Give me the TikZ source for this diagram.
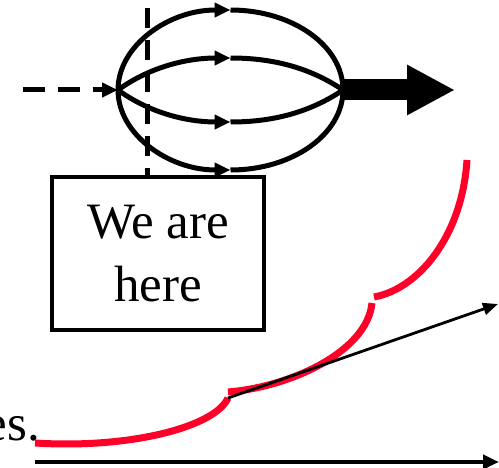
\documentclass[tikz,border=0pt]{standalone}
\usepackage{fontspec}
\setmainfont{Liberation Serif}
\usetikzlibrary{arrows.meta}
\definecolor{curvered}{RGB}{255,0,40}
\tikzset{flow/.style = {line width=5pt},
  midtip/.style = {-{Triangle[length=16pt,width=14pt]}},
  big/.style = {font=\fontsize{51}{63}\selectfont}}

\begin{document}
\begin{tikzpicture}[x=1pt, y=1pt]
  \useasboundingbox (0,0) rectangle (499,467);
  \clip (0,0) rectangle (499,467);
  \coordinate (L) at (118,377);
  \coordinate (R) at (343,377);
  \coordinate (top) at (230.5,457);
  \coordinate (up) at (230.5,409);
  \coordinate (down) at (230.5,345);
  \coordinate (feed) at (23,377);
  \coordinate (out) at (455,377);
  \coordinate (cut) at (147,459);
  \node[draw, line width=4.5pt, minimum width=212pt, minimum height=153pt,
        align=center, big, inner sep=0pt] (here) at (158,213.5) {We are\\here};
  \node[big, anchor=base east, inner sep=0pt] (tail) at (40,27) {es.};
  % flux lines
  \draw[flow, midtip] (L) arc[start angle=180, end angle=90, x radius=112.5, y radius=80];
  \draw[flow] (top) arc[start angle=90, end angle=0, x radius=112.5, y radius=80];
  \draw[flow, midtip] (L) arc[start angle=180, end angle=270, x radius=112.5, y radius=80];
  \draw[flow] (230.5,297) arc[start angle=270, end angle=360, x radius=112.5, y radius=80];
  \draw[flow, midtip] (L) to[out=36, in=180, looseness=0.9] (up);
  \draw[flow] (up) to[out=0, in=146, looseness=0.9] (R);
  \draw[flow, midtip] (L) to[out=-36, in=180, looseness=0.9] (down);
  \draw[flow] (down) to[out=0, in=-146, looseness=0.9] (R);
  \draw[flow, midtip, dash pattern=on 22pt off 13pt] (feed) -- (L);
  \draw[flow, dash pattern=on 20pt off 12pt] (cut) -- (here.north -| cut);
  \draw[line width=21pt, -{Triangle[length=48pt,width=47pt]}] (R) -- (out);
  % growth
  \coordinate (s1) at (35,24);  \coordinate (e1) at (228,69);
  \coordinate (s2) at (228,75); \coordinate (e2) at (372,164);
  \coordinate (s3) at (374,170); \coordinate (e3) at (467,307);
  \draw[curvered, line width=7pt] (s1) .. controls (130,18) and (215,40) .. (e1);
  \draw[curvered, line width=7pt] (s2) .. controls (290,80) and (367,115) .. (e2);
  \draw[curvered, line width=7pt] (s3) .. controls (418,178) and (462,230) .. (e3);
  \coordinate (slope) at (498,163);
  \draw[line width=2.8pt, -{Triangle[length=15pt,width=12pt]}] (e1) -- (slope);
  \coordinate (t0) at (35,5);
  \coordinate (t1) at (499,5);
  \draw[line width=4.5pt, -{Triangle[length=16pt,width=14pt]}] (t0) -- (t1);
\end{tikzpicture}
\end{document}
